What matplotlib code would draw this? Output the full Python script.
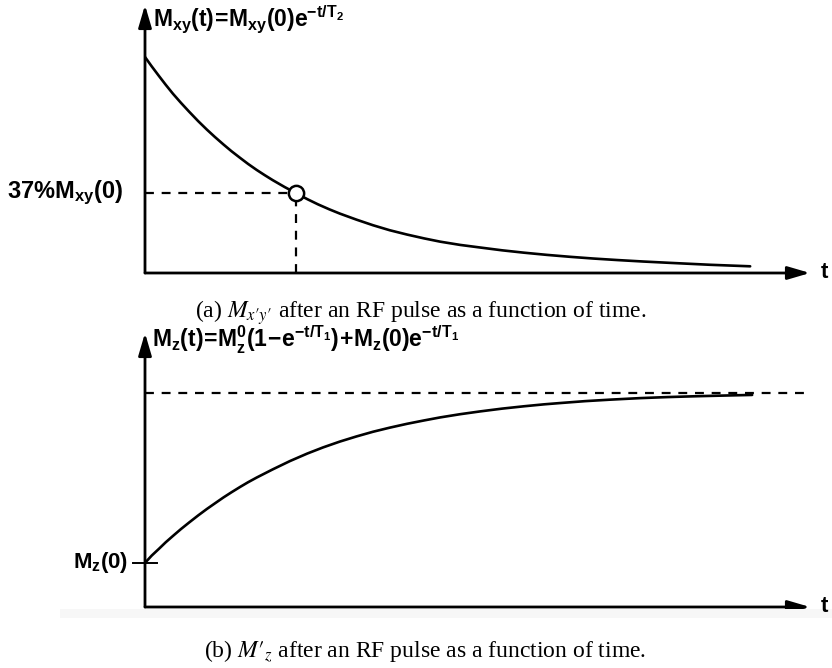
import matplotlib
matplotlib.use('Agg')
import matplotlib.pyplot as plt
from matplotlib.patches import Rectangle

plt.rcParams['mathtext.fontset'] = 'custom'
plt.rcParams['mathtext.rm'] = 'Liberation Sans:bold'
plt.rcParams['mathtext.it'] = 'Liberation Sans:bold'
plt.rcParams['mathtext.bf'] = 'Liberation Sans:bold'
plt.rcParams['font.family'] = ['Liberation Sans', 'DejaVu Sans']

# (a) transverse decay (t in arbitrary units, M / Mxy(0))
t_xy = [0, 0.1, 0.21, 0.31, 0.42, 0.54, 0.66, 0.8, 0.93, 1.05, 1.18, 1.3, 1.43, 1.55,
        1.68, 1.8, 1.92, 2.1, 2.27, 2.44, 2.6, 2.77, 2.93, 3.18, 3.43, 3.68, 3.94, 4.2,
        4.44, 4.74, 5.04, 5.37, 5.7, 6.04, 6.39, 6.74, 7.1, 7.5, 7.89, 8.5, 9.1]
m_xy = [1.0, 0.957, 0.912, 0.872, 0.83, 0.788, 0.748, 0.703, 0.664, 0.63, 0.595, 0.564,
        0.533, 0.505, 0.477, 0.453, 0.43, 0.398, 0.37, 0.342, 0.318, 0.295, 0.275, 0.247,
        0.221, 0.198, 0.178, 0.16, 0.145, 0.13, 0.118, 0.105, 0.094, 0.084, 0.075, 0.067,
        0.060, 0.053, 0.047, 0.038, 0.031]
t2_point = (2.27, 0.37)

# (b) longitudinal recovery, M / Mz0
t_z = [0, 0.1, 0.21, 0.31, 0.42, 0.54, 0.66, 0.8, 0.93, 1.05, 1.18, 1.3, 1.43, 1.55,
       1.68, 1.8, 1.92, 2.18, 2.44, 2.68, 2.93, 3.18, 3.43, 3.68, 3.94, 4.2, 4.44, 4.74,
       5.04, 5.37, 5.7, 6.0, 6.24, 6.62, 7.0, 7.44, 7.86, 8.3, 8.7, 9.13]
m_z = [0.206, 0.24, 0.272, 0.302, 0.332, 0.364, 0.394, 0.428, 0.458, 0.484, 0.512, 0.536,
       0.561, 0.583, 0.605, 0.624, 0.643, 0.682, 0.717, 0.746, 0.773, 0.797, 0.819, 0.838,
       0.856, 0.872, 0.886, 0.901, 0.914, 0.927, 0.938, 0.947, 0.953, 0.962, 0.969, 0.976,
       0.981, 0.985, 0.988, 0.991]
mz_eq = 1.0
mz_start = 0.206

W, H = 832, 668
fig = plt.figure(figsize=(W / 100, H / 100), dpi=100)


def fx(x):
    return x / W


def fy(y):
    return 1 - y / H


# faint scanner shading under the lower panel
fig.patches.append(Rectangle((fx(60), fy(618)), fx(772), 9 / H, transform=fig.transFigure,
                             color='#f7f7f7', lw=0, zorder=0))

arrow = dict(arrowstyle='-|>,head_length=0.75,head_width=0.22', lw=2, color='black',
             mutation_scale=18, shrinkA=0, shrinkB=0)

# ---- panel (a)
ax1 = fig.add_axes([fx(145), fy(273), 665 / W, 268 / H])
ax1.set_xlim(0, 10)
ax1.set_ylim(0, 268 / 216)
ax1.axis('off')
ax1.annotate('', xy=(10, 0), xytext=(0, 0), arrowprops=arrow, annotation_clip=False)
ax1.annotate('', xy=(0, 268 / 216), xytext=(0, 0), arrowprops=arrow, annotation_clip=False)
ax1.plot(t_xy, m_xy, color='black', lw=1.9, solid_capstyle='round', solid_joinstyle='round')
ax1.plot([0, t2_point[0]], [t2_point[1], t2_point[1]], color='black', lw=1.6,
         ls=(0, (4, 3.5)))
ax1.plot([t2_point[0], t2_point[0]], [0, t2_point[1]], color='black', lw=1.6,
         ls=(0, (4, 3.5)))
ax1.plot(*t2_point, 'o', mfc='white', mec='black', ms=11, mew=1.8)

fig.text(fx(153), fy(27), r'$\mathrm{M_{xy}(t)\!=\!M_{xy}(0)e^{-t/T_2}}$', fontsize=16.5,
         ha='left', va='baseline')
fig.text(fx(123), fy(198), r'$\mathrm{37\%M_{xy}(0)}$', fontsize=17, ha='right',
         va='baseline')
fig.text(fx(820), fy(278), r'$\mathrm{t}$', fontsize=16, ha='left', va='baseline')
fig.text(fx(421), fy(318),
         "(a) $M_{x\u2032y\u2032}$ after an RF pulse as a function of time.",
         fontsize=17, family='Liberation Serif', math_fontfamily='stix', ha='center',
         va='baseline')

# ---- panel (b)
ax2 = fig.add_axes([fx(145), fy(607), 665 / W, 274 / H])
ax2.set_xlim(0, 10)
ax2.set_ylim(0, 274 / 214)
ax2.axis('off')
ax2.annotate('', xy=(10, 0), xytext=(0, 0), arrowprops=arrow, annotation_clip=False)
ax2.annotate('', xy=(0, 274 / 214), xytext=(0, 0), arrowprops=arrow, annotation_clip=False)
ax2.plot(t_z, m_z, color='black', lw=1.9, solid_capstyle='round', solid_joinstyle='round')
ax2.plot([0, 9.92], [mz_eq, mz_eq], color='black', lw=1.6, ls=(0, (4, 3.5)))
ax2.plot([-0.18, 0.18], [mz_start, mz_start], color='black', lw=1.4, clip_on=False)

fig.text(fx(152), fy(348),
         r'$\mathrm{M_z(t)\!=\!M_z^0(1\!-\!e^{-t/T_1})\!+\!M_z(0)e^{-t/T_1}}$',
         fontsize=16.5, ha='left', va='baseline')
fig.text(fx(128), fy(568), r'$\mathrm{M_z(0)}$', fontsize=16, ha='right', va='baseline')
fig.text(fx(820), fy(612), r'$\mathrm{t}$', fontsize=16, ha='left', va='baseline')
fig.text(fx(425), fy(657), "(b) $M\u2032_z$ after an RF pulse as a function of time.",
         fontsize=17, family='Liberation Serif', math_fontfamily='stix', ha='center',
         va='baseline')

fig.savefig('out.png', dpi=100)
